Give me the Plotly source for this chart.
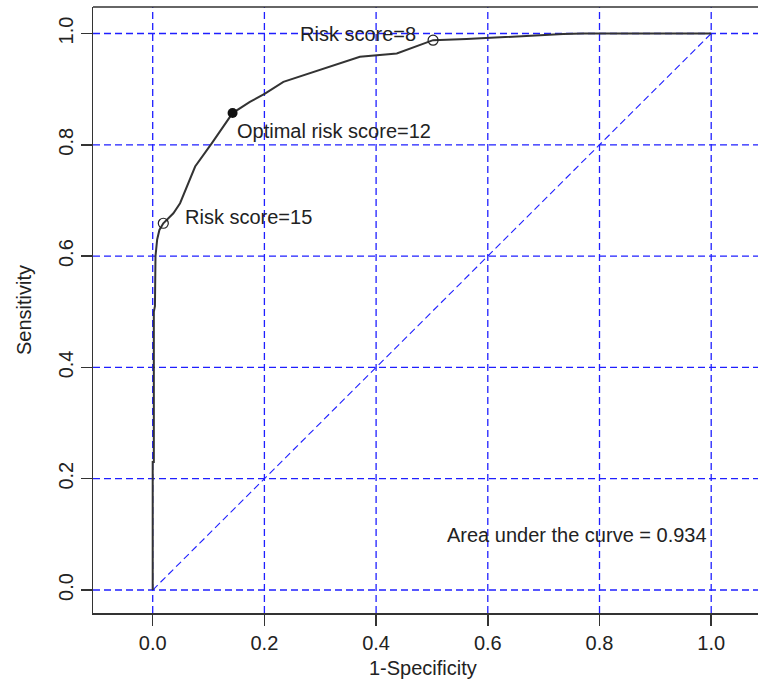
import plotly.graph_objects as go

# ROC curve points (1-specificity, sensitivity)
fpr = [0.0, 0.0, 0.002, 0.002, 0.004, 0.005, 0.008, 0.012, 0.019, 0.037, 0.049,
       0.076, 0.106, 0.143, 0.174, 0.201, 0.234, 0.371, 0.437, 0.502, 0.562,
       0.634, 0.735, 0.771, 1.0]
tpr = [0.0, 0.23, 0.23, 0.50, 0.51, 0.60, 0.63, 0.647, 0.659, 0.677, 0.695,
       0.761, 0.803, 0.857, 0.877, 0.892, 0.913, 0.958, 0.964, 0.988, 0.990,
       0.994, 0.999, 1.0, 1.0]

# highlighted cut-offs
open_x = [0.019, 0.502]
open_y = [0.659, 0.988]
opt_x = [0.143]
opt_y = [0.857]

ticks = [0.0, 0.2, 0.4, 0.6, 0.8, 1.0]
tick_text = ["0.0", "0.2", "0.4", "0.6", "0.8", "1.0"]

labels = ["Risk score=8", "Optimal risk score=12", "Risk score=15"]
auc_text = "Area under the curve = 0.934"
x_title = "1-Specificity"
y_title = "Sensitivity"

FONT = "Liberation Sans, Arial, sans-serif"
TXT = "#222222"
GRID = "#1f1fff"
XR = [-0.1069, 1.0838]
YR = [-0.0413, 1.0476]

fig = go.Figure()

# dashed grid drawn as shapes at the tick positions
for t in ticks:
    fig.add_shape(type="line", xref="x", yref="y", x0=t, x1=t, y0=YR[0], y1=YR[1],
                  line=dict(color=GRID, width=1.3, dash="7px,4px"), layer="below")
    fig.add_shape(type="line", xref="x", yref="y", x0=XR[0], x1=XR[1], y0=t, y1=t,
                  line=dict(color=GRID, width=1.3, dash="7px,4px"), layer="below")

# diagonal reference line
fig.add_trace(go.Scatter(x=[0, 1], y=[0, 1], mode="lines",
                         line=dict(color=GRID, width=1.1, dash="7px,4px"),
                         showlegend=False, hoverinfo="skip"))
# ROC curve
fig.add_trace(go.Scatter(x=fpr, y=tpr, mode="lines",
                         line=dict(color="#333333", width=2),
                         showlegend=False))
fig.add_trace(go.Scatter(x=open_x, y=open_y, mode="markers",
                         marker=dict(symbol="circle-open", size=10, color="#222222",
                                     line=dict(color="#222222", width=1.2)),
                         showlegend=False))
fig.add_trace(go.Scatter(x=opt_x, y=opt_y, mode="markers",
                         marker=dict(symbol="circle", size=10, color="#111111"),
                         showlegend=False))

ann_font = dict(family=FONT, size=20, color=TXT)
fig.add_annotation(x=0.475, y=0.999, text=labels[0], showarrow=False,
                   xanchor="right", yanchor="middle", font=ann_font)
fig.add_annotation(x=0.147, y=0.824, text=labels[1], showarrow=False,
                   xanchor="left", yanchor="middle", font=ann_font)
fig.add_annotation(x=0.055, y=0.671, text=labels[2], showarrow=False,
                   xanchor="left", yanchor="middle", font=ann_font)
fig.add_annotation(x=0.76, y=0.099, text=auc_text, showarrow=False,
                   xanchor="center", yanchor="middle", font=ann_font)

# axis titles
fig.add_annotation(xref="paper", yref="paper", x=(423 - 93) / 665, y=-(668 - 613) / 606,
                   text=x_title, showarrow=False, xanchor="center", yanchor="middle",
                   font=ann_font)
fig.add_annotation(xref="paper", yref="paper", x=-(93 - 24) / 665, y=(613 - 310) / 606,
                   text=y_title, showarrow=False, xanchor="center", yanchor="middle",
                   textangle=-90, font=ann_font)

# top border
fig.add_shape(type="line", xref="paper", yref="paper", x0=0, x1=1, y0=1, y1=1,
              line=dict(color="#333333", width=1.5))

fig.update_layout(
    width=758, height=686,
    margin=dict(l=93, r=0, t=7, b=73),
    paper_bgcolor="white", plot_bgcolor="white",
    font=dict(family=FONT, size=20, color=TXT),
    showlegend=False,
)
fig.update_xaxes(
    range=XR, tickvals=ticks, ticktext=tick_text, automargin=False,
    showgrid=False, zeroline=False, showline=True, linecolor="#333333", linewidth=1.5,
    ticks="outside", ticklen=11, tickcolor="#333333", tickwidth=1.5,
    tickfont=dict(family=FONT, size=20, color=TXT),
)
fig.update_yaxes(
    range=YR, tickvals=ticks, ticktext=tick_text, automargin=False,
    showgrid=False, zeroline=False, showline=True, linecolor="#333333", linewidth=1.5,
    ticks="outside", ticklen=11, tickcolor="#333333", tickwidth=1.5,
    tickangle=-90,
    tickfont=dict(family=FONT, size=20, color=TXT),
)

fig.write_html("out.html",
               config={"displayModeBar": False, "staticPlot": True},
               post_script="document.body.style.margin='0px';document.body.style.overflow='hidden';")
